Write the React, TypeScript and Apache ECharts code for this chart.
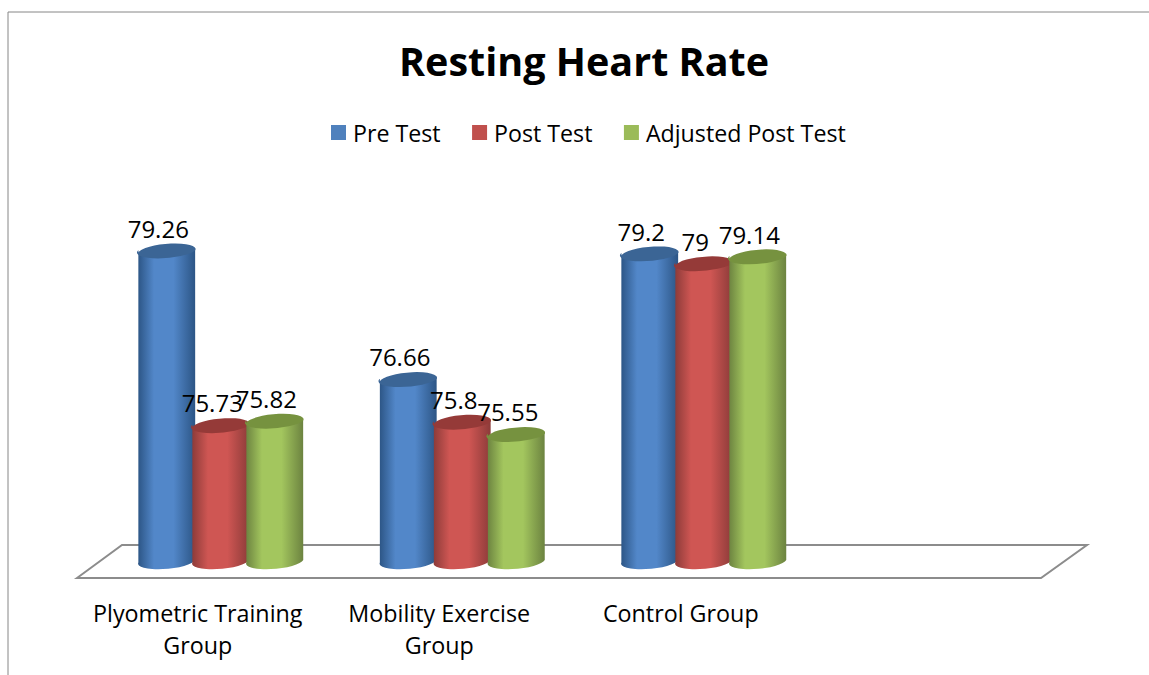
import React, { useEffect, useRef } from "react";
import * as echarts from "echarts";

const categories = ["Plyometric Training\nGroup", "Mobility Exercise\nGroup", "Control Group", ""];
const preTest = [79.26, 76.66, 79.2];
const postTest = [75.73, 75.8, 79];
const adjustedPostTest = [75.82, 75.55, 79.14];
const seriesNames = ["Pre Test", "Post Test", "Adjusted Post Test"];
const FONT = "'Open Sans', sans-serif";

const looks = [
  { legend: "#4f81bd", edge: "#2c5585", mid: "#5287c9", top: "#3b6595" },
  { legend: "#c0504d", edge: "#8c3b39", mid: "#cf5653", top: "#953a38" },
  { legend: "#9bbb59", edge: "#6c8340", mid: "#a3c65e", top: "#76923f" },
];

const DEPTH_X = 23;
const BAR_OFFSET = 54;
const RX = 28.5;
const RY = 7.5;
const TILT = -5;

function cylinder(seriesIndex: number) {
  const look = looks[seriesIndex];
  return (params: any, api: any) => {
    const catIndex = api.value(0);
    const value = api.value(1);
    const cx = api.coord([catIndex, value])[0] + DEPTH_X + (seriesIndex - 1) * BAR_OFFSET;
    const top = api.coord([catIndex, value])[1];
    const base = api.coord([catIndex, 73])[1];
    const dy = RX * Math.sin((TILT * Math.PI) / 180);
    const dx = RX * Math.cos((TILT * Math.PI) / 180);
    const body =
      `M ${cx - dx} ${top - dy} L ${cx - dx} ${base - dy} ` +
      `A ${RX} ${RY} ${TILT} 0 0 ${cx + dx} ${base + dy} L ${cx + dx} ${top + dy} ` +
      `A ${RX} ${RY} ${TILT} 0 1 ${cx - dx} ${top - dy} Z`;
    const cap =
      `M ${cx - dx} ${top - dy} A ${RX} ${RY} ${TILT} 0 1 ${cx + dx} ${top + dy} ` +
      `A ${RX} ${RY} ${TILT} 0 1 ${cx - dx} ${top - dy} Z`;
    return {
      type: "group",
      children: [
        {
          type: "path",
          shape: { pathData: body },
          style: {
            fill: new echarts.graphic.LinearGradient(0, 0, 1, 0, [
              { offset: 0, color: look.edge },
              { offset: 0.28, color: look.mid },
              { offset: 0.62, color: look.mid },
              { offset: 1, color: look.edge },
            ]),
          },
        },
        { type: "path", shape: { pathData: cap }, style: { fill: look.top } },
        {
          type: "text",
          x: cx - 8.5,
          y: top - 22,
          style: {
            text: String(value),
            fill: "#000",
            font: `24px ${FONT}`,
            textAlign: "center",
            textVerticalAlign: "middle",
          },
        },
      ],
    };
  };
}

function seriesFor(index: number, values: number[]) {
  return {
    type: "custom",
    name: seriesNames[index],
    coordinateSystem: "cartesian2d",
    renderItem: cylinder(index),
    itemStyle: { color: looks[index].legend },
    encode: { x: 0, y: 1 },
    data: values.map((v, i) => [i, v]),
    z: 2 + index,
  };
}

export default function App() {
  const ref = useRef<HTMLDivElement>(null);
  useEffect(() => {
    document.body.style.margin = "0";
    const chart = echarts.init(ref.current!, undefined, { renderer: "svg" });
    chart.setOption({
      animation: false,
      backgroundColor: "#fff",
      textStyle: { fontFamily: FONT },
      title: {
        text: "Resting Heart Rate",
        left: 579,
        top: 36,
        textAlign: "center",
        textStyle: { fontFamily: FONT, fontSize: 39.5, fontWeight: "bold", color: "#000" },
      },
      legend: {
        left: 326,
        top: 116,
        icon: "rect",
        itemWidth: 15,
        itemHeight: 15,
        itemGap: 31.5,
        textStyle: { fontFamily: FONT, fontSize: 23.2, color: "#000", padding: [0, 0, 0, 2] },
        data: seriesNames,
      },
      grid: { left: 77, width: 966, top: 164, height: 396 },
      xAxis: {
        type: "category",
        data: categories,
        axisLine: { show: false },
        axisTick: { show: false },
        axisLabel: {
          interval: 0,
          margin: 37,
          color: "#000",
          fontFamily: FONT,
          fontSize: 23.3,
          lineHeight: 32,
          verticalAlign: "top",
        },
      },
      yAxis: { type: "value", min: 73, max: 81, show: false },
      graphic: [
        {
          type: "polygon",
          silent: true,
          z: 1,
          shape: { points: [[77, 578], [122, 545], [1087, 545], [1041, 578]] },
          style: { fill: "#fff", stroke: "#8c8c8c", lineWidth: 2 },
        },
        {
          type: "polyline",
          silent: true,
          shape: { points: [[8, 675], [8, 12], [1149, 12]] },
          style: { fill: "none", stroke: "#868686", lineWidth: 1 },
        },
      ],
      series: [seriesFor(0, preTest), seriesFor(1, postTest), seriesFor(2, adjustedPostTest)],
    });
    return () => chart.dispose();
  }, []);
  return <div ref={ref} style={{ width: 1149, height: 675 }} />;
}
